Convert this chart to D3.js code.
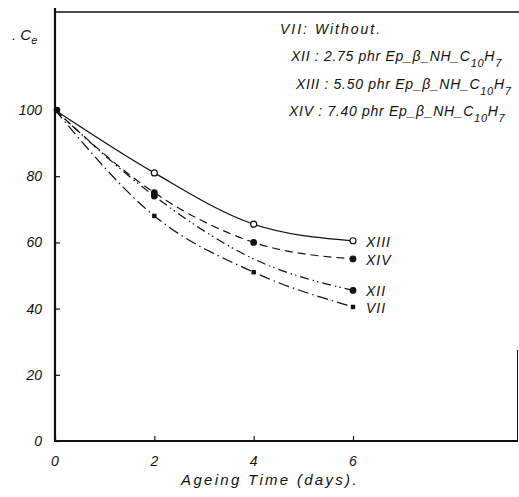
<!DOCTYPE html>
<html>
<head>
<meta charset="utf-8">
<script src="https://cdn.jsdelivr.net/npm/d3@7"></script>
<style>
  body { margin: 0; background: #fff; }
  text { font-family: "Liberation Sans", Arial, sans-serif; font-style: italic; fill: #111; }
</style>
</head>
<body>
<div class="container"></div>
<script>
var w = 519, h = 497

// data
var days = [0, 2, 4, 6]
var seriesNames = ['XIII', 'XIV', 'XII', 'VII']
var valXIII = [100, 81, 65.5, 60.5]
var valXIV  = [100, 75, 60, 55]
var valXII  = [100, 74, 55, 45.5]
var valVII  = [100, 68, 51, 40.5]
var xTicks = [0, 2, 4, 6]
var yTicks = [0, 20, 40, 60, 80, 100]

var seriesVals = [valXIII, valXIV, valXII, valVII]
var dashes = [null, '8,5', '9,4,1.5,3,1.5,4', '11,4,1.5,4']
var markers = ['open', 'dot', 'dot', 'square']
var shown = [[1, 1, 1], [1, 1, 1], [1, 0, 1], [1, 1, 1]] // XII point at 4 days not printed

var svg = d3.select('.container')
    .append('svg')
    .attr('width', w)
    .attr('height', h)

var x = d3.scaleLinear().domain([0, 6]).range([55, 353])
var y = d3.scaleLinear().domain([0, 100]).range([441, 110])

// frame
var frame = svg.append('g')
    .style('stroke', '#111')
    .style('fill', 'none')

frame.append('path')
    .attr('d', 'M55,8 L55,441 L518,441')
    .style('stroke-width', 2.2)
frame.append('path')
    .attr('d', 'M55,12 L519,12')
    .style('stroke-width', 1.6)
frame.append('path')
    .attr('d', 'M517.5,350 L517.5,441')
    .style('stroke-width', 1)

// ticks
var yAxis = d3.axisRight(y).tickValues(yTicks).tickSize(5).tickFormat('')
svg.append('g')
    .attr('transform', 'translate(55,0)')
    .call(yAxis)
    .call(g => g.select('.domain').remove())
    .selectAll('line').style('stroke', '#111').style('stroke-width', 1.2)

var xAxis = d3.axisTop(x).tickValues(xTicks).tickSize(5).tickFormat('')
svg.append('g')
    .attr('transform', 'translate(0,441)')
    .call(xAxis)
    .call(g => g.select('.domain').remove())
    .selectAll('line').style('stroke', '#111').style('stroke-width', 1.2)

svg.selectAll('.ylab')
    .data(yTicks)
    .enter()
    .append('text')
    .attr('class', 'ylab')
    .attr('x', 42)
    .attr('y', d => y(d) + 5)
    .attr('text-anchor', 'end')
    .style('font-size', '14px')
    .text(d => d)

svg.selectAll('.xlab')
    .data(xTicks)
    .enter()
    .append('text')
    .attr('class', 'xlab')
    .attr('x', d => x(d))
    .attr('y', 466)
    .attr('text-anchor', 'middle')
    .style('font-size', '14px')
    .text(d => d)

svg.append('text')
    .attr('x', 270)
    .attr('y', 485)
    .attr('text-anchor', 'middle')
    .style('font-size', '15px')
    .style('letter-spacing', '2.3px')
    .text('Ageing Time (days).')

var ce = svg.append('text')
    .attr('x', 12)
    .attr('y', 40)
    .style('font-size', '15px')
ce.append('tspan').text('. C')
ce.append('tspan').attr('dy', 4).style('font-size', '11px').text('e')

// curves
var line = d3.line()
    .x((d, i) => x(days[i]))
    .y(d => y(d))
    .curve(d3.curveMonotoneX)

seriesVals.forEach(function (vals, k) {
    svg.append('path')
        .attr('d', line(vals))
        .style('fill', 'none')
        .style('stroke', '#111')
        .style('stroke-width', 1.2)
        .style('stroke-dasharray', dashes[k])

    var pts = vals.slice(1).map((v, i) => ({ d: days[i + 1], v: v, on: shown[k][i] }))
        .filter(p => p.on)
    var g = svg.append('g')
    if (markers[k] == 'square') {
        g.selectAll('rect')
            .data(pts)
            .enter()
            .append('rect')
            .attr('x', p => x(p.d) - 2.2)
            .attr('y', p => y(p.v) - 2.2)
            .attr('width', 4.4)
            .attr('height', 4.4)
            .style('fill', '#111')
    } else {
        g.selectAll('circle')
            .data(pts)
            .enter()
            .append('circle')
            .attr('cx', p => x(p.d))
            .attr('cy', p => y(p.v))
            .attr('r', markers[k] == 'open' ? 3 : 2.8)
            .style('fill', markers[k] == 'open' ? '#fff' : '#111')
            .style('stroke', '#111')
            .style('stroke-width', 1.2)
    }

    svg.append('text')
        .attr('x', x(6) + 13)
        .attr('y', y(vals[3]) + 6)
        .style('font-size', '14px')
        .style('letter-spacing', '1px')
        .text(seriesNames[k])
})

svg.append('circle')
    .attr('cx', x(0) + 2)
    .attr('cy', y(100))
    .attr('r', 3.3)
    .style('fill', '#111')

// legend
var legendRows = [
    { id: 'XII',  amt: '2.75', x: 291, y: 61 },
    { id: 'XIII', amt: '5.50', x: 296, y: 89 },
    { id: 'XIV',  amt: '7.40', x: 289, y: 116 }
]

svg.append('text')
    .attr('x', 280)
    .attr('y', 34)
    .style('font-size', '14px')
    .style('letter-spacing', '2px')
    .text('VII: Without.')

legendRows.forEach(function (r) {
    var t = svg.append('text')
        .attr('x', r.x)
        .attr('y', r.y)
        .style('font-size', '14px')
        .style('letter-spacing', '0.7px')
    t.append('tspan').text(r.id + ' : ' + r.amt + ' phr Ep_\u03B2_NH_C')
    t.append('tspan').attr('dy', 6).style('font-size', '11px').text('10')
    t.append('tspan').attr('dy', -6).text('H')
    t.append('tspan').attr('dy', 6).style('font-size', '11px').text('7')
})
</script>
</body>
</html>
